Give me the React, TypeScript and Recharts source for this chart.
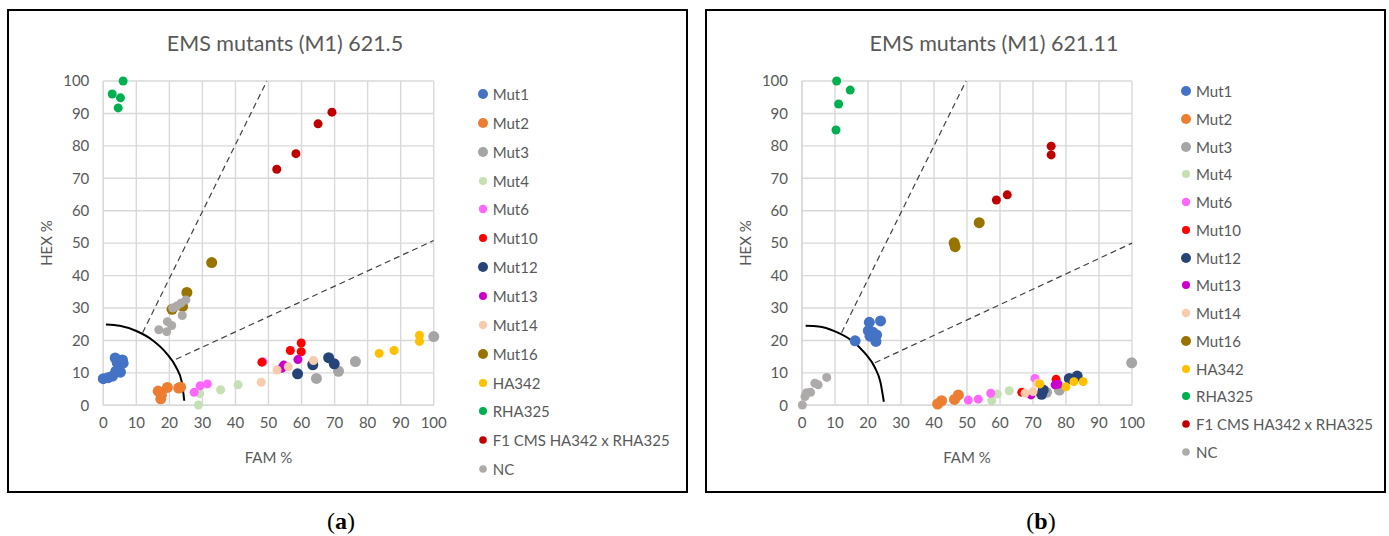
import React from 'react';
import { ComposedChart, Scatter, Line, XAxis, YAxis, CartesianGrid, ReferenceLine } from 'recharts';

// series names, colours, marker radius (Excel office palette)
const seriesNames = ['Mut1', 'Mut2', 'Mut3', 'Mut4', 'Mut6', 'Mut10', 'Mut12', 'Mut13', 'Mut14', 'Mut16', 'HA342', 'RHA325', 'F1 CMS HA342 x RHA325', 'NC'];
const seriesColors = ['#4472C4', '#ED7D31', '#A5A5A5', '#C5E0B4', '#FF66FF', '#FF0000', '#264478', '#CC00CC', '#F8CBAD', '#997300', '#FFC000', '#00B050', '#C00000', '#AEAAAA'];
const markerRadius = [5.5, 5.5, 5.5, 4.5, 4.5, 4.5, 5.5, 4.5, 4.5, 5.5, 4.5, 4.5, 4.5, 4.5];
const legendRadius = [5, 5, 5, 4, 4.2, 4, 5, 4, 4.2, 5, 4, 4, 3.8, 3.8];

const axisTicks = [0, 10, 20, 30, 40, 50, 60, 70, 80, 90, 100];

// ---- panel (a) 621.5 : [FAM %, HEX %]
const mut1A = [[0, 8.2], [1.5, 8.5], [2.8, 9], [3.6, 14.6], [4.2, 13.2], [5.8, 14], [6, 13], [4.6, 11], [5.2, 10.2], [3.8, 10.5]];
const mut2A = [[16.6, 4.4], [17.4, 2], [17.6, 3.2], [19.4, 5.5], [22.8, 5.3], [23.4, 5.6]];
const mut3A = [[64.5, 8.3], [71.2, 10.5], [76.3, 13.5], [100, 21.2]];
const mut4A = [[28.8, 0.1], [29.2, 3.6], [35.5, 4.8], [40.8, 6.3]];
const mut6A = [[27.5, 4], [29.3, 6], [31.5, 6.6], [48.3, 13.4], [54.2, 11.8]];
const mut10A = [[48, 13.3], [56.6, 16.9], [59.9, 19.2], [59.9, 16.5]];
const mut12A = [[58.8, 9.7], [63.4, 12.5], [68.2, 14.7], [69.9, 12.8]];
const mut13A = [[54, 11.4], [54.6, 12.4], [58.9, 14.1]];
const mut14A = [[47.8, 7.1], [52.6, 10.9], [56, 11.9], [63.6, 13.8]];
const mut16A = [[20.8, 29.6], [24, 30.5], [25.3, 34.8], [32.8, 44]];
const ha342A = [[83.5, 16], [88, 16.9], [95.7, 21.6], [95.7, 19.7]];
const rha325A = [[6, 100], [2.7, 96], [5.2, 94.8], [4.5, 91.7]];
const f1A = [[52.5, 72.8], [58.3, 77.6], [65, 86.8], [69.2, 90.4]];
const ncA = [[16.8, 23.3], [19.4, 25.8], [19.2, 22.7], [20.7, 24.6], [21, 30], [22.2, 30.6], [25, 32.5], [23.9, 27.7], [23.5, 31.5]];
const arcA = [[0.8, 24.9], [5, 24.5], [10, 22.9], [15, 20], [19, 16.2], [22, 11.8], [23.8, 7], [24.5, 1.4]];
const upperLineA = [[11.9, 22.4], [49.5, 100]];
const lowerLineA = [[22, 14.2], [100, 50.8]];

// ---- panel (b) 621.11
const mut1B = [[16.1, 19.9], [20.4, 25.6], [23.8, 26], [20.1, 23], [20.6, 21.3], [22.6, 21.7], [22.4, 19.7], [21.5, 22.5]];
const mut2B = [[41.1, 0.4], [42.3, 1.4], [46.2, 1.8], [47.4, 3.2]];
const mut3B = [[74.1, 4], [78, 4.7], [99.9, 13.1]];
const mut4B = [[62.8, 4.5], [57.5, 1.4], [59.2, 3.5]];
const mut6B = [[50.4, 1.6], [53.4, 1.9], [57.2, 3.7], [70.6, 8.3]];
const mut10B = [[66.6, 4], [77, 8]];
const mut12B = [[72.6, 3.4], [73.1, 4.7], [81, 8.3], [83.4, 9]];
const mut13B = [[69.4, 3.2], [76.7, 6.3], [77.6, 6.5]];
const mut14B = [[67.6, 3.7], [70, 4.2], [71.4, 6.8]];
const mut16B = [[46.1, 50.1], [46.4, 48.9], [53.7, 56.3]];
const ha342B = [[72.1, 6.6], [80, 5.7], [82.4, 7.3], [85.2, 7.3]];
const rha325B = [[10.5, 100], [14.6, 97.2], [11.1, 92.9], [10.3, 84.9]];
const f1B = [[75.5, 79.9], [75.5, 77.2], [58.9, 63.3], [62.2, 64.9]];
const ncB = [[0.1, 0.1], [0.9, 2.7], [1.4, 3.9], [2.6, 4], [3.9, 6.8], [4.9, 6.3], [7.5, 8.6]];
const arcB = [[1.1, 24.5], [5, 24.3], [10, 22.8], [15, 20], [19, 16.2], [22, 11.8], [23.8, 7], [24.8, 1.1]];
const upperLineB = [[12, 22.4], [49.7, 100]];
const lowerLineB = [[22.1, 13.1], [100, 50]];

const groupsA = [mut1A, mut2A, mut3A, mut4A, mut6A, mut10A, mut12A, mut13A, mut14A, mut16A, ha342A, rha325A, f1A, ncA];
const groupsB = [mut1B, mut2B, mut3B, mut4B, mut6B, mut10B, mut12B, mut13B, mut14B, mut16B, ha342B, rha325B, f1B, ncB];

const FONT = 'Lato, "Open Sans", sans-serif';
const GREY = '#595959';

const toPts = (a: number[][]) => a.map(([x, y]) => ({ x, y }));

interface PanelProps {
  left: number;
  title: string;
  groups: number[][][];
  arc: number[][];
  upper: number[][];
  lower: number[][];
  plotLeft: number;
  plotRight: number;
  titleX: number;
  legendX: number;
  legendY: number;
  legendStep: number;
  tag: string;
  tagX: number;
}

function Panel(p: PanelProps) {
  const chartLeft = p.left + 1;
  const chartW = p.left + 680 - chartLeft;
  const plotCenter = (p.plotLeft + p.plotRight) / 2;
  return (
    <>
      <div style={{ position: 'absolute', left: p.left, top: 9, width: 681, height: 484, border: '2px solid #000', boxSizing: 'border-box' }} />
      <div style={{ position: 'absolute', left: p.titleX - 200, width: 400, top: 30, textAlign: 'center', fontFamily: FONT, fontSize: 21.5, color: GREY, lineHeight: '26px' }}>{p.title}</div>
      <div style={{ position: 'absolute', left: plotCenter - 60, width: 120, top: 447, textAlign: 'center', fontFamily: FONT, fontSize: 15, color: GREY, lineHeight: '20px' }}>FAM %</div>
      <div style={{ position: 'absolute', left: p.plotLeft - 57 - 60, width: 120, top: 233, textAlign: 'center', fontFamily: FONT, fontSize: 15, color: GREY, lineHeight: '20px', transform: 'rotate(-90deg)' }}>HEX %</div>
      <div style={{ position: 'absolute', left: chartLeft, top: 10 }}>
        <ComposedChart width={chartW} height={482} margin={{ top: 81 - 10, right: chartLeft + chartW - p.plotRight, bottom: 492 - 405.3 - 30, left: p.plotLeft - chartLeft - 40 }}>
          <CartesianGrid stroke="#D9D9D9" strokeWidth={1.4} horizontalValues={axisTicks} verticalValues={axisTicks} />
          <XAxis type="number" dataKey="x" domain={[0, 100]} ticks={axisTicks} interval={0} height={30}
            tickLine={false} axisLine={{ stroke: '#D9D9D9', strokeWidth: 1.4 }} tickMargin={6}
            tick={{ fill: GREY, fontSize: 15, fontFamily: FONT }} />
          <YAxis type="number" dataKey="y" domain={[0, 100]} ticks={axisTicks} interval={0} width={40}
            tickLine={false} axisLine={{ stroke: '#D9D9D9', strokeWidth: 1.4 }} tickMargin={8}
            tick={{ fill: GREY, fontSize: 15, fontFamily: FONT }} />
          <ReferenceLine segment={[{ x: p.upper[0][0], y: p.upper[0][1] }, { x: p.upper[1][0], y: p.upper[1][1] }]} stroke="#404040" strokeDasharray="6 4" strokeWidth={1.2} />
          <ReferenceLine segment={[{ x: p.lower[0][0], y: p.lower[0][1] }, { x: p.lower[1][0], y: p.lower[1][1] }]} stroke="#404040" strokeDasharray="6 4" strokeWidth={1.2} />
          <Line data={toPts(p.arc)} dataKey="y" type="monotone" stroke="#000" strokeWidth={2} dot={false} activeDot={false} isAnimationActive={false} legendType="none" />
          {p.groups.map((g, i) => (
            <Scatter key={seriesNames[i]} name={seriesNames[i]} data={toPts(g)} fill={seriesColors[i]} isAnimationActive={false}
              shape={(s: any) => <circle cx={s.cx} cy={s.cy} r={markerRadius[i]} fill={seriesColors[i]} />} />
          ))}
        </ComposedChart>
      </div>
      {seriesNames.map((n, i) => (
        <div key={n} style={{ position: 'absolute', left: p.legendX - 8, top: p.legendY + i * p.legendStep - 10, height: 20, display: 'flex', alignItems: 'center', fontFamily: FONT, fontSize: 15, color: GREY, whiteSpace: 'nowrap' }}>
          <svg width={16} height={20}><circle cx={8} cy={10} r={legendRadius[i]} fill={seriesColors[i]} /></svg>
          <span style={{ marginLeft: 2 }}>{n}</span>
        </div>
      ))}
      <div style={{ position: 'absolute', left: p.tagX - 40, width: 80, top: 506, lineHeight: '30px', textAlign: 'center', fontFamily: '"Liberation Serif", serif', fontSize: 24, color: '#000' }}>
        (<b>{p.tag}</b>)
      </div>
    </>
  );
}

export default function App() {
  return (
    <div style={{ position: 'absolute', left: 0, top: 0, width: 1389, height: 536, background: '#fff', overflow: 'hidden' }}>
      <Panel left={7} title="EMS mutants (M1) 621.5" groups={groupsA} arc={arcA} upper={upperLineA} lower={lowerLineA}
        plotLeft={103.3} plotRight={433.7} titleX={285} legendX={482.7} legendY={94} legendStep={28.85} tag="a" tagX={341} />
      <Panel left={705} title="EMS mutants (M1) 621.11" groups={groupsB} arc={arcB} upper={upperLineB} lower={lowerLineB}
        plotLeft={802} plotRight={1132} titleX={994} legendX={1186} legendY={91} legendStep={27.75} tag="b" tagX={1041} />
    </div>
  );
}
